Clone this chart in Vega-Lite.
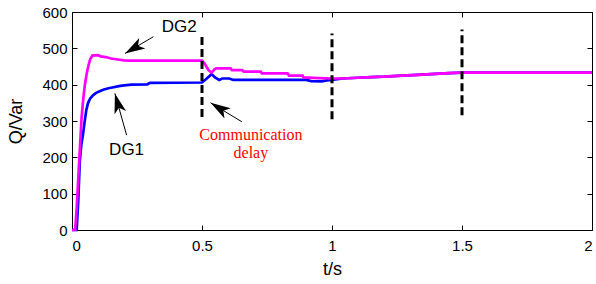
{
  "$schema": "https://vega.github.io/schema/vega-lite/v6.json",
  "width": 520,
  "height": 218,
  "autosize": {"type": "none"},
  "padding": {"left": 72, "top": 12, "right": 4, "bottom": 54},
  "background": "white",
  "config": {
    "view": {"stroke": "black", "strokeWidth": 1},
    "axis": {
      "labelFont": "Liberation Sans",
      "titleFont": "Liberation Sans",
      "labelFontSize": 15,
      "titleFontSize": 18,
      "titleFontWeight": "normal",
      "labelColor": "black",
      "titleColor": "black",
      "domainColor": "black",
      "tickColor": "black",
      "grid": false
    }
  },
  "datasets": {
    "series": [
      {"dg": "DG1", "t": 0, "q": 0}, {"dg": "DG1", "t": 0.018, "q": 0}, {"dg": "DG1", "t": 0.024, "q": 80},
      {"dg": "DG1", "t": 0.03, "q": 190}, {"dg": "DG1", "t": 0.036, "q": 235}, {"dg": "DG1", "t": 0.042, "q": 262},
      {"dg": "DG1", "t": 0.048, "q": 295}, {"dg": "DG1", "t": 0.055, "q": 330}, {"dg": "DG1", "t": 0.062, "q": 350},
      {"dg": "DG1", "t": 0.07, "q": 362}, {"dg": "DG1", "t": 0.08, "q": 370}, {"dg": "DG1", "t": 0.09, "q": 376},
      {"dg": "DG1", "t": 0.1, "q": 380}, {"dg": "DG1", "t": 0.12, "q": 386}, {"dg": "DG1", "t": 0.14, "q": 390},
      {"dg": "DG1", "t": 0.16, "q": 393}, {"dg": "DG1", "t": 0.18, "q": 396}, {"dg": "DG1", "t": 0.2, "q": 398},
      {"dg": "DG1", "t": 0.23, "q": 400}, {"dg": "DG1", "t": 0.29, "q": 401}, {"dg": "DG1", "t": 0.3, "q": 405},
      {"dg": "DG1", "t": 0.5, "q": 406}, {"dg": "DG1", "t": 0.515, "q": 415}, {"dg": "DG1", "t": 0.537, "q": 429},
      {"dg": "DG1", "t": 0.55, "q": 420}, {"dg": "DG1", "t": 0.566, "q": 413}, {"dg": "DG1", "t": 0.578, "q": 417},
      {"dg": "DG1", "t": 0.605, "q": 417}, {"dg": "DG1", "t": 0.62, "q": 413}, {"dg": "DG1", "t": 0.9, "q": 413},
      {"dg": "DG1", "t": 0.92, "q": 410}, {"dg": "DG1", "t": 0.96, "q": 409}, {"dg": "DG1", "t": 0.98, "q": 412},
      {"dg": "DG1", "t": 1.0, "q": 413}, {"dg": "DG1", "t": 1.04, "q": 417}, {"dg": "DG1", "t": 1.1, "q": 419},
      {"dg": "DG1", "t": 1.15, "q": 421}, {"dg": "DG1", "t": 1.2, "q": 422}, {"dg": "DG1", "t": 1.27, "q": 425},
      {"dg": "DG1", "t": 1.33, "q": 427}, {"dg": "DG1", "t": 1.38, "q": 429}, {"dg": "DG1", "t": 1.45, "q": 432},
      {"dg": "DG1", "t": 1.5, "q": 433}, {"dg": "DG1", "t": 2, "q": 433},
      {"dg": "DG2", "t": 0, "q": 0}, {"dg": "DG2", "t": 0.012, "q": 0}, {"dg": "DG2", "t": 0.018, "q": 60},
      {"dg": "DG2", "t": 0.024, "q": 140}, {"dg": "DG2", "t": 0.03, "q": 220}, {"dg": "DG2", "t": 0.037, "q": 311},
      {"dg": "DG2", "t": 0.044, "q": 365}, {"dg": "DG2", "t": 0.05, "q": 402}, {"dg": "DG2", "t": 0.057, "q": 432},
      {"dg": "DG2", "t": 0.063, "q": 452}, {"dg": "DG2", "t": 0.07, "q": 470}, {"dg": "DG2", "t": 0.078, "q": 480},
      {"dg": "DG2", "t": 0.1, "q": 481}, {"dg": "DG2", "t": 0.11, "q": 478}, {"dg": "DG2", "t": 0.13, "q": 476},
      {"dg": "DG2", "t": 0.15, "q": 472}, {"dg": "DG2", "t": 0.17, "q": 470}, {"dg": "DG2", "t": 0.2, "q": 467},
      {"dg": "DG2", "t": 0.22, "q": 466}, {"dg": "DG2", "t": 0.5, "q": 466}, {"dg": "DG2", "t": 0.51, "q": 458},
      {"dg": "DG2", "t": 0.525, "q": 440}, {"dg": "DG2", "t": 0.537, "q": 433}, {"dg": "DG2", "t": 0.548, "q": 442},
      {"dg": "DG2", "t": 0.555, "q": 445}, {"dg": "DG2", "t": 0.61, "q": 445}, {"dg": "DG2", "t": 0.615, "q": 440},
      {"dg": "DG2", "t": 0.655, "q": 440}, {"dg": "DG2", "t": 0.66, "q": 436}, {"dg": "DG2", "t": 0.726, "q": 436},
      {"dg": "DG2", "t": 0.73, "q": 431}, {"dg": "DG2", "t": 0.829, "q": 431}, {"dg": "DG2", "t": 0.835, "q": 425},
      {"dg": "DG2", "t": 0.887, "q": 425}, {"dg": "DG2", "t": 0.89, "q": 420}, {"dg": "DG2", "t": 0.95, "q": 418},
      {"dg": "DG2", "t": 1.0, "q": 417}, {"dg": "DG2", "t": 1.04, "q": 417}, {"dg": "DG2", "t": 1.1, "q": 419},
      {"dg": "DG2", "t": 1.15, "q": 421}, {"dg": "DG2", "t": 1.2, "q": 422}, {"dg": "DG2", "t": 1.27, "q": 425},
      {"dg": "DG2", "t": 1.33, "q": 427}, {"dg": "DG2", "t": 1.38, "q": 429}, {"dg": "DG2", "t": 1.45, "q": 432},
      {"dg": "DG2", "t": 1.5, "q": 433}, {"dg": "DG2", "t": 2, "q": 433}
    ],
    "delays": [
      {"t": 0.5, "lo": 311, "hi": 542},
      {"t": 1.0, "lo": 305, "hi": 541},
      {"t": 1.5, "lo": 316, "hi": 552}
    ],
    "arrows": [
      {"name": "DG2", "t1": 0.313, "v1": 532, "t2": 0.204, "v2": 486},
      {"name": "DG1", "t1": 0.21, "v1": 261, "t2": 0.165, "v2": 376},
      {"name": "delay", "t1": 0.653, "v1": 298, "t2": 0.533, "v2": 350}
    ],
    "labels": [
      {"txt": "DG2", "t": 0.412, "v": 546},
      {"txt": "DG1", "t": 0.21, "v": 206}
    ],
    "notes": [
      {"txt": "Communication", "t": 0.688, "v": 248},
      {"txt": "delay", "t": 0.688, "v": 198}
    ]
  },
  "layer": [
    {
      "data": {"name": "series"},
      "mark": {"type": "line", "strokeWidth": 2.7},
      "encoding": {
        "x": {
          "field": "t", "type": "quantitative",
          "scale": {"domain": [0, 2], "nice": false},
          "axis": {"values": [0, 0.5, 1, 1.5, 2], "format": "~g", "title": "t/s", "tickSize": -5, "labelPadding": 13, "titlePadding": 7}
        },
        "y": {
          "field": "q", "type": "quantitative",
          "scale": {"domain": [0, 600], "nice": false},
          "axis": {"values": [0, 100, 200, 300, 400, 500, 600], "title": "Q/Var", "tickSize": -5, "labelPadding": 10, "titlePadding": 16}
        },
        "color": {"field": "dg", "type": "nominal", "scale": {"domain": ["DG1", "DG2"], "range": ["#0000FF", "#FF00FF"]}, "legend": null}
      }
    },
    {
      "data": {"name": "delays"},
      "mark": {"type": "rule", "color": "black", "strokeWidth": 3, "strokeDash": [8, 4]},
      "encoding": {
        "x": {"field": "t", "type": "quantitative", "axis": {"orient": "top", "values": [0, 0.5, 1, 1.5, 2], "labels": false, "title": null, "tickSize": -5}},
        "y": {"field": "lo", "type": "quantitative", "axis": {"orient": "right", "values": [0, 100, 200, 300, 400, 500, 600], "labels": false, "title": null, "tickSize": -5}},
        "y2": {"field": "hi"}
      }
    },
    {
      "data": {"name": "arrows"},
      "mark": {"type": "rule", "color": "black", "strokeWidth": 1},
      "encoding": {
        "x": {"field": "t1", "type": "quantitative", "axis": null},
        "y": {"field": "v1", "type": "quantitative", "axis": null},
        "x2": {"field": "t2"},
        "y2": {"field": "v2"}
      }
    },
    {
      "data": {"name": "arrows"},
      "transform": [{"filter": "datum.name == 'DG2'"}],
      "mark": {"type": "point", "shape": "M0,0L-0.6,2L0,1.5L0.6,2Z", "filled": true, "color": "black", "opacity": 1, "size": 400, "angle": 239.6},
      "encoding": {
        "x": {"field": "t2", "type": "quantitative", "axis": null},
        "y": {"field": "v2", "type": "quantitative", "axis": null}
      }
    },
    {
      "data": {"name": "arrows"},
      "transform": [{"filter": "datum.name == 'DG1'"}],
      "mark": {"type": "point", "shape": "M0,0L-0.6,2L0,1.5L0.6,2Z", "filled": true, "color": "black", "opacity": 1, "size": 400, "angle": 344.3},
      "encoding": {
        "x": {"field": "t2", "type": "quantitative", "axis": null},
        "y": {"field": "v2", "type": "quantitative", "axis": null}
      }
    },
    {
      "data": {"name": "arrows"},
      "transform": [{"filter": "datum.name == 'delay'"}],
      "mark": {"type": "point", "shape": "M0,0L-0.6,2L0,1.5L0.6,2Z", "filled": true, "color": "black", "opacity": 1, "size": 400, "angle": 301.5},
      "encoding": {
        "x": {"field": "t2", "type": "quantitative", "axis": null},
        "y": {"field": "v2", "type": "quantitative", "axis": null}
      }
    },
    {
      "data": {"name": "labels"},
      "mark": {"type": "text", "font": "Liberation Sans", "fontSize": 17, "color": "black", "align": "center", "baseline": "alphabetic"},
      "encoding": {
        "x": {"field": "t", "type": "quantitative", "axis": null},
        "y": {"field": "v", "type": "quantitative", "axis": null},
        "text": {"field": "txt"}
      }
    },
    {
      "data": {"name": "notes"},
      "mark": {"type": "text", "font": "Liberation Serif", "fontSize": 16, "color": "#FF0000", "align": "center", "baseline": "alphabetic"},
      "encoding": {
        "x": {"field": "t", "type": "quantitative", "axis": null},
        "y": {"field": "v", "type": "quantitative", "axis": null},
        "text": {"field": "txt"}
      }
    }
  ],
  "resolve": {"axis": {"x": "independent", "y": "independent"}}
}
